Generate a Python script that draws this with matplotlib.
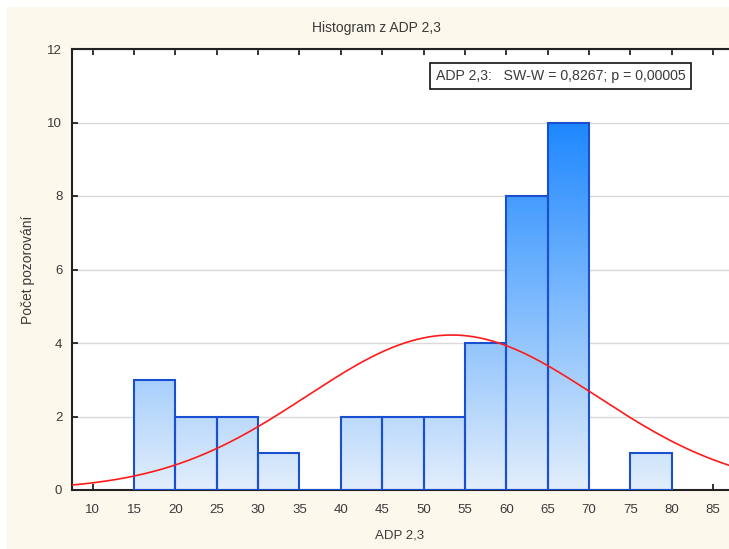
import numpy as np
import matplotlib
matplotlib.use('Agg')
import matplotlib.pyplot as plt
from matplotlib.colors import LinearSegmentedColormap
from matplotlib.patches import Rectangle

## DATA

bin_left = [15, 20, 25, 30, 35, 40, 45, 50, 55, 60, 65, 70, 75]
counts = [3, 2, 2, 1, 0, 2, 2, 2, 4, 8, 10, 0, 1]
bin_width = 5
fit_mean = 53.4  # fitted normal curve
fit_sd = 17.5
x_ticks = [10, 15, 20, 25, 30, 35, 40, 45, 50, 55, 60, 65, 70, 75, 80, 85]
y_ticks = [0, 2, 4, 6, 8, 10, 12]
title = 'Histogram z ADP 2,3'
x_label = 'ADP 2,3'
y_label = 'Počet pozorování'
legend_text = 'ADP 2,3:   SW-W = 0,8267; p = 0,00005'

## STYLE

plt.rcParams['font.family'] = ['Liberation Sans', 'DejaVu Sans']
text_col = '#3a3a3a'
cream = '#fdf8ec'

fig = plt.figure(figsize=(7.29, 5.49), dpi=100)
fig.patch.set_facecolor('white')
# cream panel behind the chart (small white margin top/left)
fig.patches.append(Rectangle((7 / 729, 0), 1, 1 - 7 / 549, transform=fig.transFigure,
                             facecolor=cream, edgecolor='none', zorder=-10))

ax = fig.add_axes([72 / 729, 59 / 549, 1 - 72 / 729, (490 - 49) / 549])
ax.set_facecolor('white')

# bars with vertical gradient (common scale over y)
cmap = LinearSegmentedColormap.from_list('statblue', ['#e2eefb', '#1e88ff'])
for x0, c in zip(bin_left, counts):
    if c == 0:
        continue
    grad = np.linspace(0, c / 10, 200).reshape(-1, 1)
    ax.imshow(grad, extent=(x0, x0 + bin_width, 0, c), origin='lower', cmap=cmap,
              vmin=0, vmax=1, aspect='auto', zorder=2, interpolation='bilinear')
ax.bar(bin_left, counts, width=bin_width, align='edge', fill=False,
       edgecolor='#1a4fd0', linewidth=1.5, zorder=3)

# normal fit curve
n_total = sum(counts)
xs = np.linspace(7.5, 87, 400)
ys = n_total * bin_width * np.exp(-0.5 * ((xs - fit_mean) / fit_sd) ** 2) / (fit_sd * np.sqrt(2 * np.pi))
ax.plot(xs, ys, color='#ff1a1a', linewidth=1.2, zorder=4)

ax.set_xlim(7.5, 86.93)
ax.set_ylim(0, 12)
ax.set_xticks(x_ticks)
ax.set_yticks(y_ticks)
ax.grid(axis='y', color='#d9d9d9', linewidth=1.0, zorder=0)
ax.set_axisbelow(True)

ax.tick_params(direction='in', length=4, width=1.3, color='#222222',
               labelsize=9.5, labelcolor=text_col, top=True, labeltop=False)
ax.tick_params(axis='x', pad=10)
ax.tick_params(axis='y', pad=7)
for side in ['left', 'bottom', 'top']:
    ax.spines[side].set_linewidth(1.5)
    ax.spines[side].set_color('#222222')
ax.spines['right'].set_visible(False)

ax.text(0.744, 0.939, legend_text, transform=ax.transAxes, ha='center', va='center',
        fontsize=10.2, color=text_col, zorder=6,
        bbox=dict(boxstyle='square,pad=0.4', facecolor='white', edgecolor='#111111', linewidth=1.2))

fig.text(376 / 729, 1 - 28 / 549, title, ha='center', va='center', fontsize=10, color=text_col)
fig.text(400 / 729, 1 - 536 / 549, x_label, ha='center', va='center', fontsize=9.5, color=text_col)
fig.text(28 / 729, 1 - 270 / 549, y_label, ha='center', va='center', rotation=90,
         fontsize=10, color=text_col)

fig.savefig('out.png', dpi=100, facecolor=fig.get_facecolor())
